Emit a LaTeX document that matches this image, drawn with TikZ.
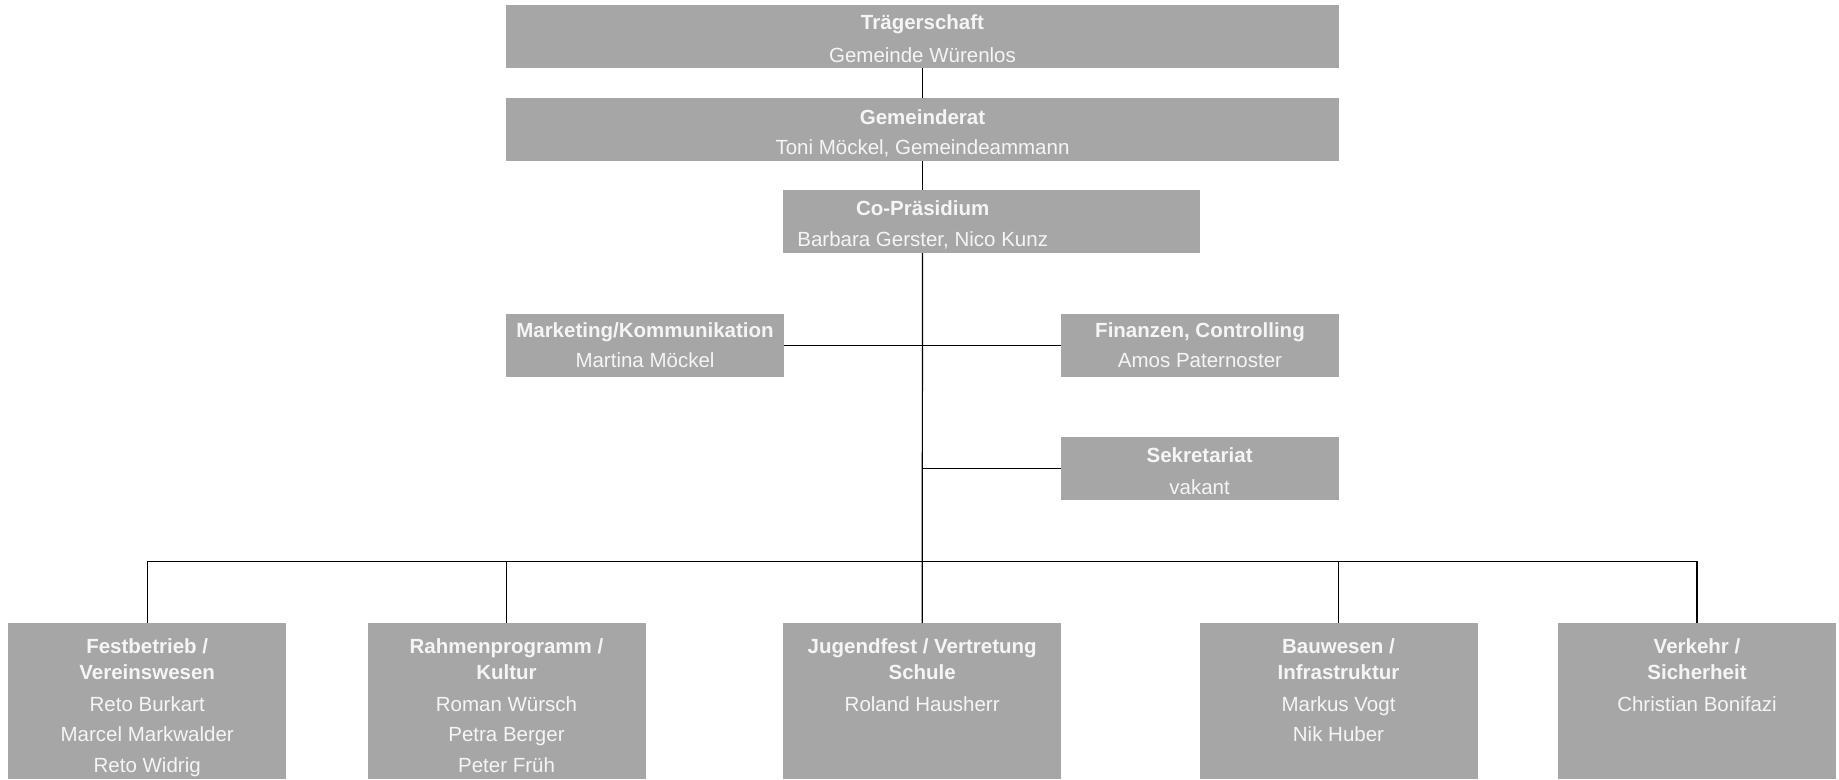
\documentclass[tikz,border=0pt]{standalone}
\usepackage{fontspec}
\setmainfont{Liberation Sans}
\definecolor{boxgray}{RGB}{166,166,166}
\definecolor{txtwhite}{RGB}{245,245,245}
\begin{document}
\begin{tikzpicture}[x=1pt,y=-1pt,
  box/.style={rectangle, fill=boxgray, draw=none, inner sep=0pt, outer sep=0pt},
  ttl/.style={text=txtwhite, font=\fontsize{20.5}{24}\selectfont\bfseries, anchor=base, inner sep=0pt},
  nm/.style={text=txtwhite, font=\fontsize{20.5}{24}\selectfont, anchor=base, inner sep=0pt},
  conn/.style={draw=black, line width=1.2pt}]
\useasboundingbox (0,0) rectangle (1839,779);
\fill[white] (0,0) rectangle (1839,779);
% top boxes
\node[box, minimum width=833pt, minimum height=63pt] (traeger) at (922.5,36.5) {};
\node[box, minimum width=833pt, minimum height=63pt] (gemrat) at (922.5,129.2) {};
\node[box, minimum width=416.7pt, minimum height=63pt] (copraes) at (991.7,221.5) {};
\node[box, minimum width=278pt, minimum height=63pt] (marketing) at (645,345.5) {};
\node[box, minimum width=278pt, minimum height=63pt] (finanzen) at (1200,345.5) {};
\node[box, minimum width=278pt, minimum height=63pt] (sekret) at (1199.6,468.7) {};
% bottom boxes
\node[box, minimum width=278pt, minimum height=156pt] (fest) at (147.2,701.2) {};
\node[box, minimum width=278pt, minimum height=156pt] (rahmen) at (506.5,701.2) {};
\node[box, minimum width=278pt, minimum height=156pt] (jugend) at (922.2,701.2) {};
\node[box, minimum width=278pt, minimum height=156pt] (bau) at (1338.5,701.2) {};
\node[box, minimum width=278pt, minimum height=156pt] (verkehr) at (1697,701.2) {};
% texts
\node[ttl] (traeger-t) at (922.5,29.3) {Trägerschaft};
\node[nm] (traeger-n) at (922.5,62) {Gemeinde Würenlos};
\node[ttl] (gemrat-t) at (922.5,124.3) {Gemeinderat};
\node[nm] (gemrat-n) at (922.5,154.3) {Toni Möckel, Gemeindeammann};
\node[ttl] (copraes-t) at (922.7,215) {Co-Präsidium};
\node[nm] (copraes-n) at (922.7,246.2) {Barbara Gerster, Nico Kunz};
\node[ttl] (marketing-t) at (645,337.7) {Marketing/Kommunikation};
\node[nm] (marketing-n) at (645,367.3) {Martina Möckel};
\node[ttl] (finanzen-t) at (1200,337.7) {Finanzen, Controlling};
\node[nm] (finanzen-n) at (1200,367.3) {Amos Paternoster};
\node[ttl] (sekret-t) at (1199.6,462.7) {Sekretariat};
\node[nm] (sekret-n) at (1199.6,494) {vakant};
% bottom texts
\node[ttl] (fest-t1) at (147.2,653.3) {Festbetrieb /};
\node[ttl] (fest-t2) at (147.2,679) {Vereinswesen};
\node[nm] (fest-n1) at (147.2,711.6) {Reto Burkart};
\node[nm] (fest-n2) at (147.2,741.5) {Marcel Markwalder};
\node[nm] (fest-n3) at (147.2,772) {Reto Widrig};
\node[ttl] (rahmen-t1) at (506.5,653.3) {Rahmenprogramm /};
\node[ttl] (rahmen-t2) at (506.5,679) {Kultur};
\node[nm] (rahmen-n1) at (506.5,711.6) {Roman Würsch};
\node[nm] (rahmen-n2) at (506.5,741.5) {Petra Berger};
\node[nm] (rahmen-n3) at (506.5,772) {Peter Früh};
\node[ttl] (jugend-t1) at (922.2,653.3) {Jugendfest / Vertretung};
\node[ttl] (jugend-t2) at (922.2,679) {Schule};
\node[nm] (jugend-n1) at (922.2,711.6) {Roland Hausherr};
\node[ttl] (bau-t1) at (1338.5,653.3) {Bauwesen /};
\node[ttl] (bau-t2) at (1338.5,679) {Infrastruktur};
\node[nm] (bau-n1) at (1338.5,711.6) {Markus Vogt};
\node[nm] (bau-n2) at (1338.5,741.5) {Nik Huber};
\node[ttl] (verkehr-t1) at (1697,653.3) {Verkehr /};
\node[ttl] (verkehr-t2) at (1697,679) {Sicherheit};
\node[nm] (verkehr-n1) at (1697,711.6) {Christian Bonifazi};
% connectors
\coordinate (bus) at (922.5,561.5);
\draw[conn] (traeger.south) -- (gemrat.north);
\draw[conn] (gemrat.south) -- (gemrat.south |- copraes.north);
\draw[conn] (gemrat.south |- copraes.south) -- (jugend.north);
\draw[conn] (marketing.east) -- (finanzen.west);
\draw[conn] (sekret.west) -- (sekret.west -| jugend.north);
\draw[conn] (fest.north) -- (fest.north |- bus) -- (verkehr.north |- bus) -- (verkehr.north);
\draw[conn] (rahmen.north) -- (rahmen.north |- bus);
\draw[conn] (bau.north) -- (bau.north |- bus);
\end{tikzpicture}
\end{document}
